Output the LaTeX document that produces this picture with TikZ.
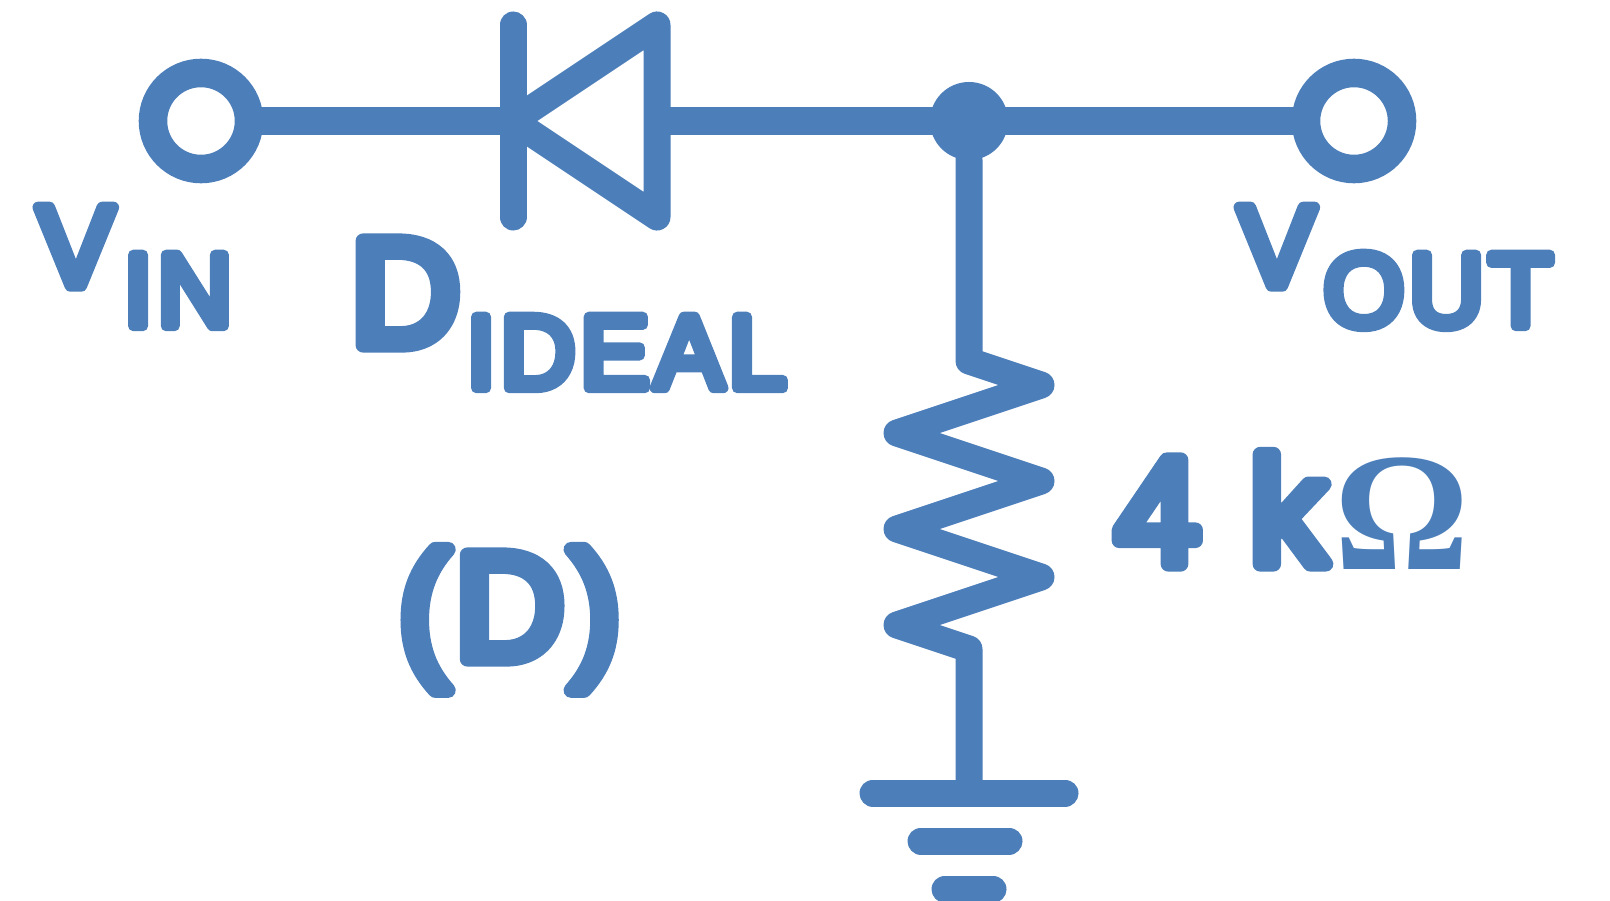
\documentclass[tikz,border=0pt]{standalone}
\usepackage{fontspec}
\usepackage{xcolor}
\setmainfont{Liberation Sans}
\newfontfamily\lblfont[FakeBold=10]{Liberation Sans}
\newfontfamily\bigfont[FakeBold=10,LetterSpace=4]{Liberation Sans}
\newfontfamily\valfont[FakeBold=10,LetterSpace=5.5]{Liberation Sans}
\newfontfamily\subfont[FakeBold=10,LetterSpace=5]{Liberation Sans}
\newfontfamily\omegafont{Liberation Serif}
\definecolor{wireblue}{HTML}{4C7EBA}
\tikzset{
  wire/.style={line width=2.7mm, color=wireblue, line cap=round, line join=round},
  lead/.style={wire, line cap=butt},
  terminal/.style={circle, draw=wireblue, line width=2.85mm, fill=white, minimum size=9.6cm/10, inner sep=0pt, outer sep=0pt},
  lbl/.style={anchor=base west, inner sep=0pt, text=wireblue},
}
\newcommand{\lblsize}[2]{\pgfsetroundjoin#1\fontsize{#2}{#2}\selectfont}
\begin{document}
\begin{tikzpicture}[x=0.01cm, y=-0.01cm]
\useasboundingbox (0,0) rectangle (1610,900);
% wires
\coordinate (anode) at (513,121);
\coordinate (cathode) at (657,121);
\coordinate (rtop) at (969,361);
\coordinate (rbot) at (969,649);
\coordinate (gnd) at (969,793);
\node[terminal] (vin) at (201,121) {};
\node[terminal] (vout) at (1354,121) {};
\node[circle, fill=wireblue, minimum size=7.8cm/10, inner sep=0pt, outer sep=0pt] (junction) at (969,121) {};
\draw[lead] (vin) -- (anode);
\draw[lead] (cathode) -- (junction.center) -- (vout);
% diode
\draw[wire] (513,25) -- (513,217);
\draw[wire] (657,25) -- (657,217) -- (anode) -- cycle;
% resistor
\draw[wire] (junction) -- (rtop) -- (1041,385) -- (897,433) -- (1041,481) -- (897,529) -- (1041,577) -- (897,625) -- (rbot) -- (gnd);
% ground
\draw[wire] (873,793) -- (1065,793);
\draw[wire] (921,841) -- (1009,841);
\draw[wire] (945,889) -- (993,889);
% labels
\node[lbl, font=\lblsize{\lblfont}{32.5}] (vinv) at (37,286) {V};
\node[lbl, font=\lblsize{\subfont}{29.4}] (vinsub) at (123,326) {IN};
\node[lbl, font=\lblsize{\lblfont}{43}] (dname) at (350,345) {D};
\node[lbl, font=\lblsize{\subfont}{29.4}] (dsub) at (466,388) {IDEAL};
\node[lbl, font=\lblsize{\bigfont}{43}] (dbracket) at (398,659) {(D)};
\node[lbl, font=\lblsize{\valfont}{43}] (rval) at (1115,564) {4 k};
\node[lbl, font=\omegafont\bfseries\fontsize{48}{48}\selectfont] (rohm) at (1334,569) {Ω};
\node[lbl, font=\lblsize{\lblfont}{32.5}] (voutv) at (1238,286) {V};
\node[lbl, font=\lblsize{\subfont}{29.4}] (voutsub) at (1323,326) {OUT};
\end{tikzpicture}
\end{document}
